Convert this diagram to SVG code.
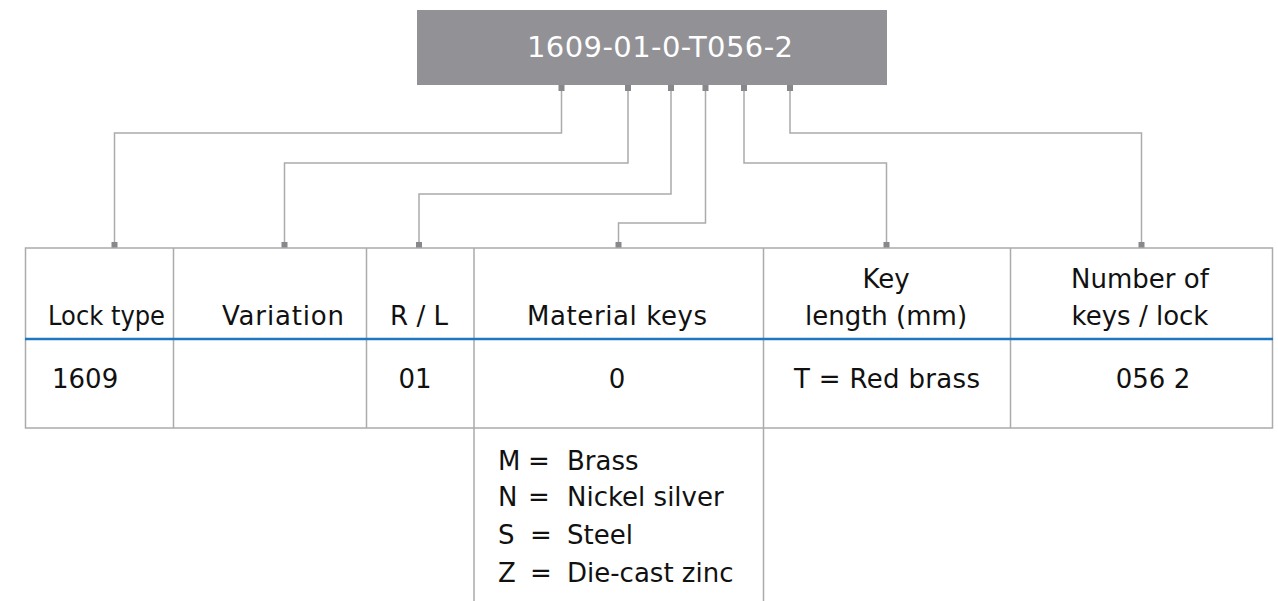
<svg xmlns="http://www.w3.org/2000/svg" width="1278" height="601" viewBox="0 0 1278 601">
<style>
text{font-family:"DejaVu Sans","Liberation Sans",sans-serif;font-size:26px;fill:#111}
.c{text-anchor:middle}
.title{fill:#fff;font-size:29px}
.grid{stroke:#ababab;stroke-width:1.5;fill:none}
.conn{stroke:#ababab;stroke-width:1.5;fill:none}
.stub{fill:#88878b}
</style>
<rect width="1278" height="601" fill="#fff"/>
<g id="code">
<rect x="417" y="10" width="470" height="75" fill="#929195"/>
<text class="title c" x="660" y="57" textLength="266" lengthAdjust="spacing">1609-01-0-T056-2</text>
</g>
<g id="connectors">
<path class="conn" d="M561.5 91V133H114.5V247"/>
<path class="conn" d="M628 91V163H284.5V247"/>
<path class="conn" d="M671 91V194H419V247"/>
<path class="conn" d="M705.5 91V223H618.5V247"/>
<path class="conn" d="M744 91V163H886.5V247"/>
<path class="conn" d="M790 91V133H1141.5V247"/>
<rect class="stub" x="558.5" y="85" width="6" height="6"/>
<rect class="stub" x="625" y="85" width="6" height="6"/>
<rect class="stub" x="668" y="85" width="6" height="6"/>
<rect class="stub" x="702.5" y="85" width="6" height="6"/>
<rect class="stub" x="741" y="85" width="6" height="6"/>
<rect class="stub" x="787" y="85" width="6" height="6"/>
<rect class="stub" x="111.5" y="242" width="6" height="6"/>
<rect class="stub" x="281.5" y="242" width="6" height="6"/>
<rect class="stub" x="416" y="242" width="6" height="6"/>
<rect class="stub" x="615.5" y="242" width="6" height="6"/>
<rect class="stub" x="883.5" y="242" width="6" height="6"/>
<rect class="stub" x="1138.5" y="242" width="6" height="6"/>
</g>
<g id="table">
<rect class="grid" x="25.5" y="248" width="1247" height="180"/>
<path class="grid" d="M173.5 248V428M366.5 248V428M474 248V601M763.5 248V601M1010.5 248V428"/>
<line x1="25" y1="339" x2="1273" y2="339" stroke="#1f77c0" stroke-width="2.5"/>
</g>
<g id="col-lock-type">
<text x="48" y="325" textLength="117" lengthAdjust="spacingAndGlyphs">Lock type</text>
<text x="52" y="388">1609</text>
</g>
<g id="col-variation">
<text class="c" x="283" y="325" textLength="122" lengthAdjust="spacing">Variation</text>
</g>
<g id="col-rl">
<text class="c" x="419" y="325">R / L</text>
<text class="c" x="415" y="388">01</text>
</g>
<g id="col-material">
<text class="c" x="617" y="325" textLength="180" lengthAdjust="spacing">Material keys</text>
<text class="c" x="617" y="388">0</text>
</g>
<g id="col-key-length">
<text class="c" x="886" y="288">Key</text>
<text class="c" x="886" y="325">length (mm)</text>
<text class="c" x="887" y="388" textLength="186" lengthAdjust="spacing">T = Red brass</text>
</g>
<g id="col-number">
<text class="c" x="1140" y="288">Number of</text>
<text class="c" x="1140" y="325">keys / lock</text>
<text class="c" x="1153" y="388">056 2</text>
</g>
<g id="materials">
<text y="470"><tspan x="498">M</tspan><tspan x="528">=</tspan><tspan x="567">Brass</tspan></text>
<text y="506"><tspan x="498">N</tspan><tspan x="528">=</tspan><tspan x="567">Nickel silver</tspan></text>
<text y="544"><tspan x="498">S</tspan><tspan x="530">=</tspan><tspan x="567">Steel</tspan></text>
<text y="582"><tspan x="498">Z</tspan><tspan x="530">=</tspan><tspan x="567">Die-cast zinc</tspan></text>
</g>
</svg>
